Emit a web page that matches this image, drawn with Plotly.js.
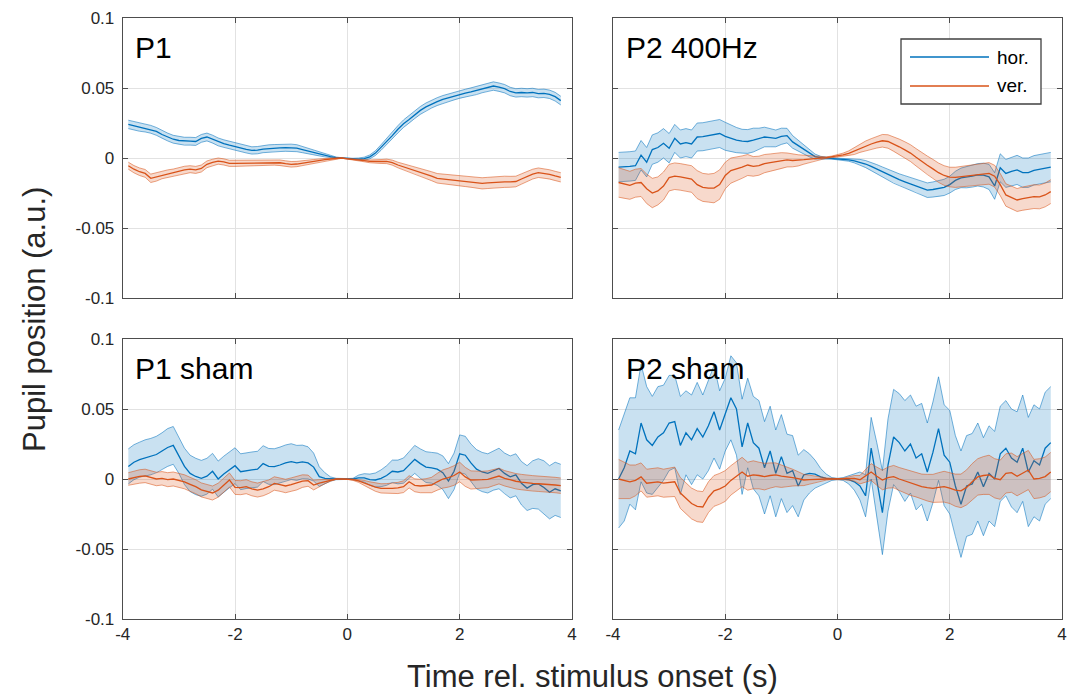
<!DOCTYPE html>
<html>
<head>
<meta charset="utf-8">
<script src="https://cdn.plot.ly/plotly-3.0.1.min.js"></script>
<style>html,body{margin:0;padding:0;background:#fff}#chart{width:1067px;height:694px}</style>
</head>
<body>
<div id="chart"></div>
<script>
// time axis (s)
const t = [-3.9,-3.8,-3.7,-3.6,-3.5,-3.4,-3.3,-3.2,-3.1,-3.0,-2.9,-2.8,-2.7,-2.6,-2.5,-2.4,-2.3,-2.2,-2.1,-2.0,
-1.9,-1.8,-1.7,-1.6,-1.5,-1.4,-1.3,-1.2,-1.1,-1.0,-0.9,-0.8,-0.7,-0.6,-0.5,-0.4,-0.3,-0.2,-0.1,0.0,
0.1,0.2,0.3,0.4,0.5,0.6,0.7,0.8,0.9,1.0,1.1,1.2,1.3,1.4,1.5,1.6,1.7,1.8,1.9,2.0,
2.1,2.2,2.3,2.4,2.5,2.6,2.7,2.8,2.9,3.0,3.1,3.2,3.3,3.4,3.5,3.6,3.7,3.8];

const panelTitles = ["P1", "P2 400Hz", "P1 sham", "P2 sham"];
const seriesNames = ["hor.", "ver."];
const xTicks = [-4, -2, 0, 2, 4];
const xTickText = ["-4", "-2", "0", "2", "4"];
const yTicks = [-0.1, -0.05, 0, 0.05, 0.1];
const yTickText = ["-0.1", "-0.05", "0", "0.05", "0.1"];

// P1
const p1Hor = [0.024,0.023,0.022,0.0215,0.0205,0.019,0.0168,0.015,0.0134,0.0125,
0.012,0.012,0.0118,0.014,0.015,0.0135,0.0115,0.0103,0.0092,0.0081,
0.0072,0.0062,0.0054,0.0056,0.0064,0.0068,0.007,0.0072,0.0074,0.0073,
0.007,0.006,0.0049,0.0039,0.003,0.002,0.001,0.0003,0,-0.0004,
-0.0007,-0.0008,-0.0005,0.0008,0.0035,0.0075,0.012,0.016,0.0205,0.0245,
0.0275,0.031,0.034,0.0365,0.0385,0.0403,0.0418,0.043,0.0443,0.0455,
0.0463,0.0472,0.0482,0.0495,0.0506,0.0514,0.0506,0.0495,0.0475,0.0465,
0.0468,0.0465,0.0468,0.046,0.0462,0.0455,0.0438,0.041];
const p1HorErr = [0.003,0.003,0.0029,0.0029,0.0028,0.0028,0.0028,0.0028,0.0028,0.0028,
0.0028,0.0028,0.0028,0.0028,0.0028,0.0028,0.0028,0.0027,0.0027,0.0027,
0.0027,0.0026,0.0026,0.0026,0.0026,0.0026,0.0026,0.0026,0.0026,0.0026,
0.0025,0.0022,0.002,0.0018,0.0015,0.0012,0.0008,0.0004,0.0002,0.0002,
0.0005,0.0008,0.0011,0.0014,0.0017,0.002,0.0022,0.0024,0.0026,0.0027,
0.0028,0.0028,0.0028,0.0028,0.0028,0.0028,0.0028,0.0028,0.0028,0.0028,
0.0028,0.0029,0.0029,0.0029,0.003,0.003,0.003,0.003,0.003,0.003,
0.003,0.003,0.003,0.003,0.003,0.003,0.0031,0.0031];
const p1Ver = [-0.0055,-0.008,-0.0098,-0.011,-0.0145,-0.0135,-0.012,-0.0112,-0.0105,-0.0095,
-0.0085,-0.008,-0.0085,-0.0075,-0.0045,-0.0032,-0.0022,-0.0028,-0.0038,-0.0038,
-0.0037,-0.0036,-0.0036,-0.0035,-0.0034,-0.0032,-0.0031,-0.0034,-0.004,-0.0045,
-0.0043,-0.0036,-0.0031,-0.0025,-0.0019,-0.0012,-0.0007,-0.0003,0,-0.0006,
-0.0012,-0.0015,-0.0019,-0.0024,-0.0026,-0.0025,-0.0024,-0.0033,-0.005,-0.0063,
-0.0075,-0.0087,-0.0099,-0.0115,-0.013,-0.0145,-0.015,-0.0154,-0.0158,-0.0162,
-0.0166,-0.017,-0.0176,-0.0181,-0.0178,-0.0174,-0.017,-0.017,-0.017,-0.0168,
-0.015,-0.0132,-0.0115,-0.0105,-0.011,-0.0117,-0.0128,-0.0138];
const p1VerErr = [0.0025,0.0026,0.0027,0.0028,0.003,0.003,0.0028,0.0027,0.0026,0.0026,
0.0026,0.0025,0.0025,0.0025,0.0024,0.0023,0.0022,0.0022,0.0022,0.0022,
0.0021,0.0021,0.0021,0.0021,0.0021,0.002,0.002,0.002,0.002,0.002,
0.0019,0.0018,0.0016,0.0014,0.0012,0.001,0.0007,0.0004,0.0002,0.0002,
0.0004,0.0006,0.0008,0.001,0.0012,0.0014,0.0016,0.0018,0.002,0.0022,
0.0024,0.0026,0.0028,0.003,0.0032,0.0034,0.0035,0.0036,0.0037,0.0038,
0.0038,0.0039,0.004,0.004,0.004,0.004,0.004,0.004,0.0039,0.0038,
0.0037,0.0036,0.0035,0.0034,0.0034,0.0033,0.0033,0.0033];

// P2 400Hz
const p2Hor = [-0.0065,-0.0065,-0.006,-0.0055,0.002,-0.003,0.006,0.0075,0.0105,0.007,
0.014,0.01,0.011,0.01,0.015,0.0152,0.016,0.0165,0.0175,0.0155,
0.014,0.0128,0.012,0.0118,0.0128,0.0138,0.015,0.0145,0.014,0.0155,
0.016,0.0115,0.0088,0.006,0.0033,0.001,0.0002,0,-0.0003,-0.0007,
-0.001,-0.0013,-0.002,-0.003,-0.0043,-0.006,-0.008,-0.01,-0.012,-0.014,
-0.0155,-0.017,-0.0185,-0.0195,-0.0215,-0.023,-0.0225,-0.022,-0.021,-0.019,
-0.016,-0.0142,-0.0138,-0.013,-0.012,-0.0122,-0.0135,-0.02,-0.007,-0.011,
-0.0095,-0.0085,-0.0105,-0.0105,-0.0088,-0.0082,-0.0074,-0.0065];
const p2HorErr = [0.0105,0.0105,0.0105,0.0105,0.0105,0.0105,0.0105,0.0105,0.0105,0.0105,
0.01,0.01,0.01,0.01,0.01,0.01,0.01,0.01,0.01,0.01,
0.0095,0.009,0.0085,0.0085,0.0085,0.0075,0.007,0.0065,0.006,0.0058,
0.0052,0.0045,0.004,0.0032,0.0025,0.0018,0.001,0.0005,0.0005,0.0006,
0.0008,0.001,0.0015,0.002,0.0025,0.003,0.0033,0.0036,0.0038,0.004,
0.0042,0.0044,0.0046,0.0048,0.005,0.0052,0.0054,0.0056,0.0058,0.006,
0.0065,0.007,0.0075,0.0078,0.008,0.0085,0.009,0.0095,0.01,0.01,
0.0102,0.0104,0.0105,0.0105,0.0105,0.0105,0.0105,0.0105];
const p2Ver = [-0.0175,-0.0185,-0.0195,-0.018,-0.0175,-0.022,-0.025,-0.0235,-0.02,-0.014,
-0.013,-0.0135,-0.014,-0.015,-0.019,-0.021,-0.0215,-0.0215,-0.019,-0.0125,
-0.009,-0.008,-0.0065,-0.005,-0.006,-0.0055,-0.004,-0.0033,-0.0026,-0.002,
-0.0014,-0.0018,-0.0017,-0.0012,-0.0008,-0.0002,0,0.0003,0.0008,0.0015,
0.0023,0.0033,0.005,0.007,0.0086,0.01,0.0113,0.0123,0.0118,0.01,
0.008,0.0058,0.0035,0.0005,-0.0026,-0.0052,-0.0078,-0.0105,-0.0125,-0.0136,
-0.0138,-0.0133,-0.0128,-0.0122,-0.0118,-0.0113,-0.011,-0.013,-0.019,-0.0264,
-0.0285,-0.03,-0.029,-0.0285,-0.0276,-0.0278,-0.0264,-0.024];
const p2VerErr = [0.0105,0.0105,0.01,0.01,0.01,0.0105,0.0105,0.01,0.01,0.0095,
0.0095,0.0095,0.0095,0.0095,0.01,0.01,0.01,0.0105,0.0105,0.0095,
0.009,0.0085,0.008,0.0075,0.007,0.0068,0.0065,0.0062,0.006,0.0058,
0.005,0.0045,0.004,0.0032,0.0025,0.0018,0.001,0.0005,0.0006,0.0008,
0.0012,0.0018,0.0025,0.003,0.0035,0.0038,0.0042,0.0045,0.0048,0.0052,
0.0055,0.0058,0.006,0.0062,0.0065,0.0066,0.0068,0.0069,0.007,0.007,
0.0072,0.0073,0.0074,0.0075,0.0075,0.0076,0.0077,0.0078,0.0079,0.008,
0.0081,0.0082,0.0083,0.0084,0.0085,0.0085,0.0085,0.0085];

// P1 sham
const p1ShamHor = [0.009,0.012,0.0138,0.015,0.016,0.0175,0.02,0.0225,0.024,0.017,
0.009,0.004,0.0018,0.0005,0.002,0.0055,0,0.0035,0.0065,0.0095,
0.0052,0.006,0.0065,0.007,0.011,0.009,0.0088,0.01,0.0115,0.0124,
0.0115,0.0122,0.0115,0.0085,0.0017,0.0005,0,0,0,0,
0,0.0008,0.0008,-0.0005,-0.0007,0.0005,0.0025,0.0055,0.005,0.006,
0.01,0.014,0.011,0.0085,0.008,0.007,0.0045,-0.0015,0.0055,0.018,
0.017,0.0115,0.007,0.005,0.004,0.006,0.0075,0.004,0.0015,0.003,
-0.003,-0.0065,-0.004,-0.0035,-0.006,-0.0095,-0.007,-0.0085];
const p1ShamHorErr = [0.0125,0.0125,0.0125,0.013,0.013,0.013,0.013,0.0135,0.0135,0.013,
0.013,0.013,0.013,0.0128,0.0128,0.0128,0.0128,0.0128,0.0128,0.0128,
0.0128,0.0128,0.0128,0.0128,0.0128,0.0128,0.0128,0.0128,0.0128,0.0128,
0.0125,0.012,0.0115,0.01,0.007,0.004,0.0015,0.0005,0.0003,0.0003,
0.0005,0.002,0.003,0.004,0.005,0.006,0.007,0.008,0.0085,0.009,
0.0095,0.01,0.0105,0.011,0.011,0.0115,0.012,0.0125,0.013,0.0135,
0.0135,0.0135,0.014,0.014,0.014,0.014,0.0145,0.0145,0.015,0.015,
0.0155,0.016,0.017,0.018,0.019,0.019,0.019,0.019];
const p1ShamVer = [0,0.001,0.0018,0.0022,0.0012,0,0.0005,-0.0005,0,-0.001,
-0.002,-0.0038,-0.0055,-0.0078,-0.009,-0.01,-0.008,-0.0045,-0.0007,-0.006,
-0.0062,-0.0055,-0.007,-0.0079,-0.007,-0.0055,-0.0032,-0.004,-0.005,-0.004,
-0.003,-0.0015,-0.0012,-0.0043,-0.003,-0.0019,-0.0008,0,0,0,
-0.0005,-0.0014,-0.0028,-0.0045,-0.0058,-0.0067,-0.0068,-0.0067,-0.0064,-0.0055,
-0.002,-0.0045,-0.005,-0.0048,-0.0043,-0.002,0,0.001,0.0025,0.005,
0.0015,-0.0007,-0.0008,-0.0005,-0.0002,0.001,0.0021,0.0005,-0.0008,-0.0016,
-0.0022,-0.0028,-0.0031,-0.0034,-0.0036,-0.004,-0.0043,-0.0048];
const p1ShamVerErr = [0.0045,0.0045,0.0048,0.0048,0.0048,0.0048,0.0048,0.005,0.005,0.005,
0.005,0.005,0.005,0.005,0.005,0.005,0.005,0.005,0.005,0.005,
0.005,0.005,0.005,0.005,0.005,0.0048,0.0048,0.0048,0.0048,0.0048,
0.0048,0.0045,0.004,0.0035,0.0025,0.0015,0.0008,0.0003,0.0002,0.0002,
0.0005,0.001,0.0018,0.0025,0.003,0.0033,0.0035,0.0037,0.004,0.0042,
0.0044,0.0046,0.0048,0.005,0.0055,0.006,0.0065,0.0068,0.007,0.007,
0.0068,0.0065,0.0062,0.006,0.006,0.0058,0.0056,0.0055,0.0055,0.0055,
0.0055,0.0055,0.0055,0.0055,0.0055,0.0055,0.0055,0.0055];

// P2 sham
const p2ShamHor = [0,0.008,0.02,0.018,0.04,0.028,0.024,0.03,0.033,0.04,
0.041,0.024,0.033,0.028,0.036,0.03,0.038,0.048,0.035,0.046,
0.058,0.05,0.023,0.04,0.026,0.022,0.008,0.02,0.004,0.016,
0.004,0.006,-0.005,0.003,0.004,0.0035,0.0015,0.0005,0,0,
0,-0.0005,-0.002,-0.005,-0.012,0.022,-0.001,-0.024,0.01,0.03,
0.026,0.02,0.025,0.015,0.018,0.005,0.019,0.036,0.017,0.012,
-0.005,-0.018,-0.005,-0.0035,0.005,-0.0055,0.004,0,0.018,0.022,
0.015,0.012,0.022,0.005,0.013,0.01,0.022,0.026];
const p2ShamHorErr = [0.035,0.038,0.038,0.04,0.042,0.038,0.035,0.036,0.034,0.034,
0.033,0.035,0.03,0.032,0.033,0.03,0.032,0.033,0.028,0.026,
0.03,0.033,0.034,0.032,0.033,0.034,0.033,0.032,0.031,0.03,
0.028,0.025,0.022,0.018,0.014,0.01,0.006,0.003,0.001,0.0005,
0.001,0.003,0.006,0.01,0.015,0.022,0.027,0.03,0.033,0.034,
0.035,0.036,0.035,0.037,0.036,0.035,0.036,0.037,0.036,0.037,
0.036,0.038,0.036,0.036,0.035,0.035,0.034,0.034,0.034,0.034,
0.035,0.036,0.038,0.039,0.04,0.04,0.04,0.04];
const p2ShamVer = [0,-0.001,-0.002,-0.001,0.0015,-0.003,-0.0025,-0.002,-0.003,-0.0025,
-0.002,-0.01,-0.014,-0.0175,-0.0195,-0.02,-0.013,-0.0085,-0.007,-0.005,
-0.001,0.002,0.005,0.002,0.003,0.0025,0.0017,0.0025,0.003,0.002,
0.0017,0.001,0.0002,-0.0007,-0.0005,-0.0002,0,0,0,0,
0,0.0003,0.0005,-0.0005,0.002,0.005,0.002,-0.0007,0.001,0.0017,
0,-0.0015,-0.003,-0.004,-0.0055,-0.0062,-0.0067,-0.006,-0.0055,-0.0065,
-0.008,-0.0085,-0.006,-0.002,0.0015,0.0025,0.003,0.0005,-0.0005,0.004,
0.0045,0.002,0.004,0.0064,0,0.0005,0.0017,0.005];
const p2ShamVerErr = [0.014,0.013,0.012,0.011,0.01,0.01,0.01,0.01,0.01,0.0105,
0.0105,0.011,0.011,0.011,0.011,0.011,0.011,0.011,0.011,0.011,
0.0105,0.0105,0.0105,0.01,0.01,0.0095,0.0095,0.009,0.0085,0.008,
0.007,0.006,0.005,0.004,0.0032,0.0025,0.0015,0.0008,0.0004,0.0003,
0.0005,0.0012,0.002,0.003,0.0045,0.006,0.0065,0.007,0.0075,0.008,
0.0082,0.0085,0.0087,0.0088,0.009,0.0095,0.01,0.0105,0.011,0.011,
0.0115,0.012,0.0125,0.013,0.013,0.0135,0.014,0.014,0.014,0.014,
0.014,0.014,0.014,0.014,0.014,0.014,0.014,0.014];

const FONT = "Liberation Sans, Arial, Helvetica, sans-serif";
const COLORS = {
  hor: {line: "#0072BD", edge: "rgba(0,114,189,0.6)", fill: "rgba(0,114,189,0.21)"},
  ver: {line: "#D95319", edge: "rgba(217,83,25,0.6)", fill: "rgba(217,83,25,0.22)"}
};

const panels = [
  {ax: "", hor: [p1Hor, p1HorErr], ver: [p1Ver, p1VerErr]},
  {ax: "2", hor: [p2Hor, p2HorErr], ver: [p2Ver, p2VerErr]},
  {ax: "3", hor: [p1ShamHor, p1ShamHorErr], ver: [p1ShamVer, p1ShamVerErr]},
  {ax: "4", hor: [p2ShamHor, p2ShamHorErr], ver: [p2ShamVer, p2ShamVerErr]}
];

const traces = [];
panels.forEach((p) => {
  const xa = "x" + p.ax, ya = "y" + p.ax;
  [["hor", 0], ["ver", 1]].forEach(([key, si]) => {
    const mean = p[key][0], err = p[key][1];
    const c = COLORS[key];
    const up = mean.map((m, i) => m + err[i]);
    const lo = mean.map((m, i) => m - err[i]);
    traces.push({x: t.concat(t.slice().reverse()), y: up.concat(lo.slice().reverse()),
      xaxis: xa, yaxis: ya, type: "scatter", mode: "lines", fill: "toself",
      fillcolor: c.fill, line: {width: 0, color: c.fill}, hoverinfo: "skip", showlegend: false});
    traces.push({x: t, y: up, xaxis: xa, yaxis: ya, type: "scatter", mode: "lines",
      line: {color: c.edge, width: 0.9}, hoverinfo: "skip", showlegend: false});
    traces.push({x: t, y: lo, xaxis: xa, yaxis: ya, type: "scatter", mode: "lines",
      line: {color: c.edge, width: 0.9}, hoverinfo: "skip", showlegend: false});
    traces.push({x: t, y: mean, xaxis: xa, yaxis: ya, type: "scatter", mode: "lines",
      name: seriesNames[si], line: {color: c.line, width: 1.3}, showlegend: false});
  });
});

const W = 1067, H = 694;
const xDomL = [122.7 / W, 572 / W], xDomR = [613 / W, 1062 / W];
const yDomT = [1 - 298 / H, 1 - 18 / H], yDomB = [1 - 619 / H, 1 - 339 / H];

function xAxis(domain, anchor, labels) {
  return {domain: domain, anchor: anchor, range: [-4, 4], tickmode: "array", tickvals: xTicks, ticktext: xTickText,
    showticklabels: labels, ticks: "inside", ticklen: 5, tickwidth: 1, tickcolor: "#4d4d4d",
    showline: true, linecolor: "#4d4d4d", linewidth: 1, mirror: "ticks",
    showgrid: true, gridcolor: "#e2e2e2", gridwidth: 1, zeroline: false,
    tickfont: {family: FONT, size: 17, color: "#262626"}, fixedrange: true};
}
function yAxis(domain, anchor, labels) {
  return {domain: domain, anchor: anchor, range: [-0.1, 0.1], tickmode: "array", tickvals: yTicks, ticktext: yTickText,
    showticklabels: labels, ticks: "inside", ticklen: 5, tickwidth: 1, tickcolor: "#4d4d4d",
    showline: true, linecolor: "#4d4d4d", linewidth: 1, mirror: "ticks",
    showgrid: true, gridcolor: "#e2e2e2", gridwidth: 1, zeroline: false, ticklabelstandoff: 4,
    tickfont: {family: FONT, size: 17, color: "#262626"}, fixedrange: true};
}

const annotations = panelTitles.map((txt, i) => ({
  text: txt, xref: (i === 0 ? "x" : "x" + (i + 1)) + " domain", yref: (i === 0 ? "y" : "y" + (i + 1)) + " domain",
  x: 0.024, y: 0.895, xanchor: "left", yanchor: "middle", showarrow: false,
  font: {family: FONT, size: 30, color: "#000"}
}));
annotations.push({text: "Time rel. stimulus onset (s)", xref: "paper", yref: "paper", x: 592 / W, y: 1 - 676 / H,
  xanchor: "center", yanchor: "middle", showarrow: false, font: {family: FONT, size: 31, color: "#262626"}});
annotations.push({text: "Pupil position (a.u.)", xref: "paper", yref: "paper", x: 34 / W, y: 1 - 320 / H,
  xanchor: "center", yanchor: "middle", textangle: -90, showarrow: false, font: {family: FONT, size: 31, color: "#262626"}});

// legend (drawn in the P2 400Hz panel, as in the original)
const legY = [57, 86];
const shapes = [{type: "rect", xref: "paper", yref: "paper", x0: 901 / W, x1: 1041 / W, y0: 1 - 104 / H, y1: 1 - 39 / H,
  line: {color: "#404040", width: 1.3}, fillcolor: "#fff", layer: "above"}];
["hor", "ver"].forEach((key, i) => {
  shapes.push({type: "line", xref: "paper", yref: "paper", x0: 910 / W, x1: 989 / W, y0: 1 - legY[i] / H, y1: 1 - legY[i] / H,
    line: {color: COLORS[key].line, width: 1.3}, layer: "above"});
  annotations.push({text: seriesNames[i], xref: "paper", yref: "paper", x: 995 / W, y: 1 - legY[i] / H,
    xanchor: "left", yanchor: "middle", showarrow: false, font: {family: FONT, size: 19, color: "#000"}});
});

const layout = {
  width: W, height: H, margin: {l: 0, r: 0, t: 0, b: 0},
  paper_bgcolor: "#fff", plot_bgcolor: "#fff", showlegend: false,
  font: {family: FONT},
  xaxis: xAxis(xDomL, "y", false), yaxis: yAxis(yDomT, "x", true),
  xaxis2: xAxis(xDomR, "y2", false), yaxis2: yAxis(yDomT, "x2", false),
  xaxis3: xAxis(xDomL, "y3", true), yaxis3: yAxis(yDomB, "x3", true),
  xaxis4: xAxis(xDomR, "y4", true), yaxis4: yAxis(yDomB, "x4", false),
  shapes: shapes,
  annotations: annotations
};

Plotly.newPlot("chart", traces, layout, {displayModeBar: false, staticPlot: true});
</script>
</body>
</html>
